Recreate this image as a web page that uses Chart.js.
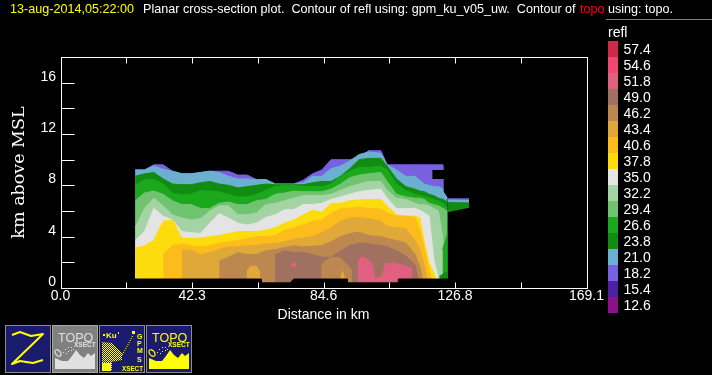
<!DOCTYPE html>
<html><head><meta charset="utf-8">
<style>html,body{margin:0;padding:0;background:#000}canvas{display:block}</style>
<script src="https://cdn.jsdelivr.net/npm/chart.js@4"></script></head>
<body><div style="width:712px;height:375px"><canvas id="c" width="712" height="375"></canvas></div>
<script>
const N=null;
const distanceKm=[24,27,30,33,36,39,42,45,48,51,54,57,60,63,66,69,72,75,78,81,84,87,90,93,96,99,103,105,108,111,114,115.5,117,118.5,120,121.5,123,124.4];
const top18=[9.2,9.2,9.6,9.6,9.1,8.9,8.9,9.0,9.1,9.1,9.1,8.8,8.8,8.45,8.45,8.1,8.1,8.1,8.4,8.9,9.2,10.0,10.0,10.0,10.1,10.7,10.7,9.6,9.6,9.6,9.6,9.6,9.6,9.6,9.6,9.6,9.6,7.0];
const top21=[9.2,9.2,9.5,9.25,9.1,8.9,8.9,9.0,9.1,9.0,8.7,8.5,8.5,8.45,8.45,8.1,8.1,8.1,8.2,8.7,8.7,9.3,9.5,9.9,10.4,10.6,10.5,9.6,9.2,8.7,8.7,8.4,8.1,8.0,7.9,7.9,7.7,7.0];
const top24=[8.7,8.9,9.0,8.5,8.1,8.05,8.05,8.2,8.3,8.1,8.0,7.8,7.9,8.0,8.1,8.05,8.05,8.05,8.05,8.2,8.3,8.3,8.7,9.3,10.0,10.1,10.1,9.5,8.5,7.9,7.7,7.55,7.5,7.3,7.2,7.0,6.9,6.7];
const top27=[8.0,8.45,8.45,8.1,7.4,7.25,7.3,7.6,7.55,7.5,7.3,7.1,7.1,7.3,7.6,7.9,8.0,8.0,7.9,7.9,7.9,8.1,8.7,9.1,9.4,9.4,9.5,9.2,8.1,7.6,7.3,7.2,7.1,7.0,6.9,6.75,6.6,6.2];
const top29=[6.8,7.4,7.55,7.3,6.8,6.5,6.5,6.2,6.2,6.6,6.7,6.5,6.5,6.8,6.9,7.3,7.4,7.55,7.5,7.5,7.5,7.7,8.1,8.6,8.8,8.9,9.0,8.3,7.3,7.1,7.0,7.0,6.9,6.6,6.5,6.4,6.2,6.0];
const top32=[4.7,6.2,7.0,6.4,5.7,5.45,5.3,5.4,6.0,6.4,6.4,5.7,5.7,5.85,6.5,6.6,6.8,7.0,7.2,7.2,7.2,7.3,7.6,7.9,8.1,8.3,8.3,7.6,7.0,6.9,6.6,6.5,6.5,6.4,6.2,6.0,3.7,0];
const top35=[3.7,4.4,6.2,5.6,5.3,4.4,4.3,4.25,5.05,5.8,5.45,5.05,4.9,5.05,5.5,5.7,6.1,6.1,6.5,6.5,6.6,6.9,7.1,7.3,7.5,7.6,7.7,7.0,6.2,6.2,6.2,6.05,5.85,5.6,2.2,0.7,0,0];
const top38=[3.1,3.3,3.7,5.2,5.3,3.9,3.85,3.9,4.0,4.1,4.25,4.4,4.4,4.4,4.5,4.7,5.05,5.3,5.7,6.05,5.9,6.6,6.6,6.8,6.85,6.9,6.9,6.4,5.7,5.6,5.6,5.45,3.5,1.95,1.2,0,0,0];
const top41=[N,N,N,2.6,3.3,3.45,3.3,3.2,3.3,3.5,3.6,3.7,3.85,4.0,4.0,4.1,4.5,4.7,4.9,5.2,5.3,5.8,6.2,6.2,6.3,6.2,6.15,5.85,5.6,5.6,5.5,4.5,3.0,1.4,0,0,0,0];
const top43=[N,N,N,N,N,2.95,2.95,2.6,2.75,3.0,3.2,3.2,3.3,3.3,3.45,3.45,3.6,3.8,3.9,4.0,4.3,4.7,5.2,5.45,5.5,5.4,5.2,4.8,4.7,4.6,3.7,3.0,1.7,0,0,0,0,0];
const top46=[N,N,N,N,N,N,N,N,N,2.1,2.4,2.75,2.6,2.6,2.9,3.0,3.15,3.3,3.2,3.25,3.3,3.6,4.0,4.25,4.35,4.1,4.0,3.85,3.7,3.5,2.6,1.7,0,0,0,0,0,0];
const top49=[N,N,N,N,N,N,N,N,N,N,N,N,N,N,N,2.6,2.9,2.75,2.8,2.6,2.4,2.4,2.9,3.3,3.5,3.45,3.3,3.2,2.9,2.5,1.8,0,0,0,0,0,0,0];
const blob46X=[83.8,85,87,90,93,93.7], blob46Top=[1.7,2.1,2.4,2.35,1.6,1.3];
const spot43X=[90,90.7,91.4], spot43Top=[0.7,1.3,0.7];
const blob43X=[59.9,61,63,64.2], blob43Top=[1.3,1.7,1.7,1.2];
const pinkX=[95.5,96.5,98,99.5,100.6,101,103.3,104.5,108,111,112.8,112.9], pinkTop=[1.95,2.4,2.35,2.1,1.6,0.75,0.9,1.9,1.95,1.7,1.6,0];
const spotPinkX=[74.2,75,75.8], spotPinkTop=[1.9,2.0,1.9], spotPinkLow=[1.65,1.6,1.65];
const edgeX=[122.8,124.4], edge27Top=[3.0,4.2], edge24X=[121.8,124.4], edge24Top=[0.9,1.3];
const notchX=[119.5,123.2,123.2,124.6], notchTop=[9.2,9.2,9.8,9.8], notchLow=[8.5,8.5,7.5,7.0];
const tailX=[124.4,131.4], tail18Top=[7.0,7.0], tail18Low=[6.85,6.85], tail21Top=[6.9,6.85], tail21Low=[6.65,6.65], tail24Top=[6.7,6.65], tail24Low=[5.9,6.25];
const topoX=[23,64.5,64.5,73.8,75,92.2,92.2,108.6,108.6,126], topoKm=[0.7,0.7,0.4,0.4,0.7,0.7,0.4,0.4,0.7,0.7];
const xTicks=[0,21.14,42.3,63.44,84.6,105.7,126.8,147.95,169.1];
const xTickLabels=['0.0','','42.3','','84.6','','126.8','','169.1'];
const yTicks=[0,2,4,6,8,10,12,14,16,18];
const yTickLabels=['0','','4','','8','','12','','16',''];
const legendLabels=['57.4','54.6','51.8','49.0','46.2','43.4','40.6','37.8','35.0','32.2','29.4','26.6','23.8','21.0','18.2','15.4','12.6'];
const legendColors=['#cc2a48','#f04670','#e06080','#a07060','#bc8850','#e0a838','#fcbc1c','#fcdc0c','#e4e4e4','#a4d4a4','#70c470','#1ca81c','#108c10','#6cb0d0','#7860e0','#4c20a0','#8c1088'];
const C={};legendLabels.forEach((l,i)=>C[l]=legendColors[i]);

const datasets=[];
function pts(xs,ys){return xs.map((x,i)=>({x,y:ys[i]}));}
function band(label,color,xs,tops,lows){
  let fill='origin';
  if(lows){datasets.push({label:label+' low',data:pts(xs,lows),borderWidth:0,borderColor:'transparent',backgroundColor:'transparent',fill:false,pointRadius:0});
    fill={target:datasets.length-1};}
  datasets.push({label,data:pts(xs,tops),borderColor:color,borderWidth:lows?0:1,backgroundColor:color,fill,pointRadius:0,tension:0,spanGaps:false});
}
band('18.2',C['18.2'],distanceKm,top18);
band('21.0',C['21.0'],distanceKm,top21);
band('gap','#000000',notchX,notchTop,notchLow);
band('23.8',C['23.8'],distanceKm,top24);
band('26.6',C['26.6'],distanceKm,top27);
band('29.4',C['29.4'],distanceKm,top29);
band('32.2',C['32.2'],distanceKm,top32);
band('26.6 edge',C['26.6'],edgeX,edge27Top);
band('23.8 edge',C['23.8'],edge24X,edge24Top);
band('35.0',C['35.0'],distanceKm,top35);
band('37.8',C['37.8'],distanceKm,top38);
band('40.6',C['40.6'],distanceKm,top41);
band('43.4',C['43.4'],distanceKm,top43);
band('46.2',C['46.2'],distanceKm,top46);
band('49.0',C['49.0'],distanceKm,top49);
band('46.2 blob',C['46.2'],blob46X,blob46Top);
band('43.4 spot',C['43.4'],spot43X,spot43Top);
band('43.4 blob',C['43.4'],blob43X,blob43Top);
band('51.8',C['51.8'],pinkX,pinkTop);
band('51.8 spot',C['51.8'],spotPinkX,spotPinkTop,spotPinkLow);
band('18.2 tail',C['18.2'],tailX,tail18Top,tail18Low);
band('21.0 tail',C['21.0'],tailX,tail21Top,tail21Low);
band('23.8 tail',C['23.8'],tailX,tail24Top,tail24Low);
band('topo','#000000',topoX,topoKm);
datasets.forEach((d,i)=>{d.order=datasets.length-i;});

const F='"Liberation Sans"';
function text(ctx,s,x,y,col,font,align){ctx.fillStyle=col;ctx.font=font;ctx.textAlign=align||'left';ctx.textBaseline='alphabetic';ctx.fillText(s,x,y);}
function poly(ctx,p,close){ctx.beginPath();p.forEach((q,i)=>i?ctx.lineTo(q[0],q[1]):ctx.moveTo(q[0],q[1]));if(close)ctx.closePath();}
function frame(ctx,x,bg,bd){ctx.fillStyle=bd;ctx.fillRect(x,325,46,48);ctx.fillStyle=bg;ctx.fillRect(x+1,326,44,46);}
function topoIcon(ctx,x,fg,bg,bd){
  frame(ctx,x,bg,bd);
  text(ctx,'TOPO',x+6,342,fg,'12.5px '+F);
  text(ctx,'XSECT',x+22,347,fg,'bold 6.5px '+F);
  ctx.fillStyle=fg;
  poly(ctx,[[x+3,369],[x+3,358],[x+10,361],[x+16,361],[x+20,356],[x+24,350],[x+28,355],[x+32,358],[x+36,353],[x+39,356],[x+43,353],[x+43,369]],true);ctx.fill();
  ctx.strokeStyle=fg;ctx.lineWidth=1.2;ctx.beginPath();ctx.ellipse(x+6,353,2.4,3.8,-0.7,0,7);ctx.stroke();
  [[11,352],[13,349],[16,347],[19,347],[21,349],[14,353],[16,351],[19,350]].forEach(d=>ctx.fillRect(x+d[0],d[1],1,1));
}
const decor={id:'decor',
 beforeDraw(c){const ctx=c.ctx;ctx.save();ctx.fillStyle='#000';ctx.fillRect(0,0,712,375);ctx.restore();},
 afterDatasetsDraw(c){
  const ctx=c.ctx,sx=c.scales.x,sy=c.scales.y;
  ctx.save();ctx.strokeStyle='#fff';ctx.lineWidth=1;
  const L=Math.round(sx.getPixelForValue(0))+.5,R=Math.round(sx.getPixelForValue(169.1))+.5,B=Math.round(sy.getPixelForValue(0))+.5,T=Math.round(sy.getPixelForValue(18))+.5;
  ctx.strokeRect(L,T,R-L,B-T);
  ctx.beginPath();
  xTicks.slice(1,-1).forEach(v=>{const p=Math.round(sx.getPixelForValue(v))+.5;ctx.moveTo(p,T);ctx.lineTo(p,T+6);ctx.moveTo(p,B);ctx.lineTo(p,B-6);});
  yTicks.slice(1,-1).forEach(v=>{const p=Math.round(sy.getPixelForValue(v))+.5;ctx.moveTo(L,p);ctx.lineTo(L+13,p);});
  ctx.stroke();
  ctx.restore();
 },
 afterDraw(c){
  const ctx=c.ctx;ctx.save();
  const tf='12.6px '+F;
  text(ctx,'13-aug-2014,05:22:00',10,13,'#ffff00',tf);
  text(ctx,'Planar cross-section plot.  Contour of refl using: gpm_ku_v05_uw.  Contour of',143,13,'#fff',tf);
  text(ctx,'topo',580,13,'#ff0000',tf);
  text(ctx,'using: topo.',608,13,'#fff',tf);
  ctx.fillStyle='#808080';ctx.fillRect(606,19,106,1);
  text(ctx,'refl',608,37,'#fff','14px '+F);
  legendLabels.forEach((l,i)=>{ctx.fillStyle=legendColors[i];ctx.fillRect(608,41+16*i,10,16);
    text(ctx,l,623.5,54+16*i,'#fff','14px '+F);});
  const nv='#1a1a6e',bd='#8c8c8c',y='#ffff00';
  frame(ctx,5,nv,bd);
  ctx.strokeStyle=y;ctx.lineWidth=2;ctx.lineJoin='round';
  poly(ctx,[[12,335],[20,332],[31,336],[43,334],[12,364],[20,361],[33,363],[43,360]]);ctx.stroke();
  topoIcon(ctx,52,'#e0e0e0','#808080','#a8a8a8');
  frame(ctx,99,nv,bd);
  text(ctx,'Ku',106,338,y,'bold 8px '+F);
  ctx.fillStyle=y;ctx.fillRect(103,334,2,2);ctx.fillRect(118,332,1,2);
  [['G',339],['P',346],['M',353],['S',362]].forEach(s=>text(ctx,s[0],137,s[1],y,'bold 7px '+F));
  text(ctx,'XSECT',122,371,y,'bold 6.3px '+F);
  ctx.save();poly(ctx,[[102,342],[112,343],[122,353],[122,360],[112,362],[112,371],[102,371]],true);ctx.clip();
  ctx.fillStyle=y;
  for(let j=342;j<372;j++)for(let i=102;i<123;i++){if((i+j)%2===0)ctx.fillRect(i,j,1,1);}
  ctx.fillRect(102,363,9,8);ctx.restore();
  ctx.fillStyle=y;
  for(let k=0;k<10;k++)ctx.fillRect(122+k*1.1,354-k*2,1,1);
  ctx.fillRect(132,331,3,3);
  topoIcon(ctx,146,y,nv,bd);
  ctx.restore();
 }};

new Chart(document.getElementById('c'),{type:'line',
 data:{datasets},
 plugins:[decor],
 options:{responsive:false,animation:false,parsing:true,
  layout:{padding:{left:8.5,right:125.5,top:57,bottom:51.6}},
  plugins:{legend:{display:false},tooltip:{enabled:false},title:{display:false}},
  elements:{line:{tension:0}},
  scales:{
   x:{type:'linear',min:0,max:169.1,grid:{display:false,drawTicks:false},border:{display:false},
     title:{display:true,text:'Distance in km',color:'#fff',font:{family:'Liberation Sans',size:14},padding:0},
     afterBuildTicks(s){s.ticks=xTicks.map(v=>({value:v}));},
     afterFit(s){s.height=35.4;s.paddingLeft=0;s.paddingRight=0;},
     ticks:{autoSkip:false,maxRotation:0,color:'#fff',padding:0,font:{family:'Liberation Sans',size:14},callback:(v,i)=>xTickLabels[i]}},
   y:{type:'linear',min:0,max:18,grid:{display:false,drawTicks:false},border:{display:false},
     title:{display:true,text:'km above MSL',color:'#fff',font:{family:'DejaVu Serif',size:17.5},padding:0},
     afterBuildTicks(s){s.ticks=yTicks.map(v=>({value:v}));},
     afterFit(s){s.width=52;s.paddingTop=0;s.paddingBottom=0;},
     ticks:{autoSkip:false,color:'#fff',padding:4.5,labelOffset:-6,font:{family:'Liberation Sans',size:14},callback:(v,i)=>yTickLabels[i]}}
  }}});
</script></body></html>
